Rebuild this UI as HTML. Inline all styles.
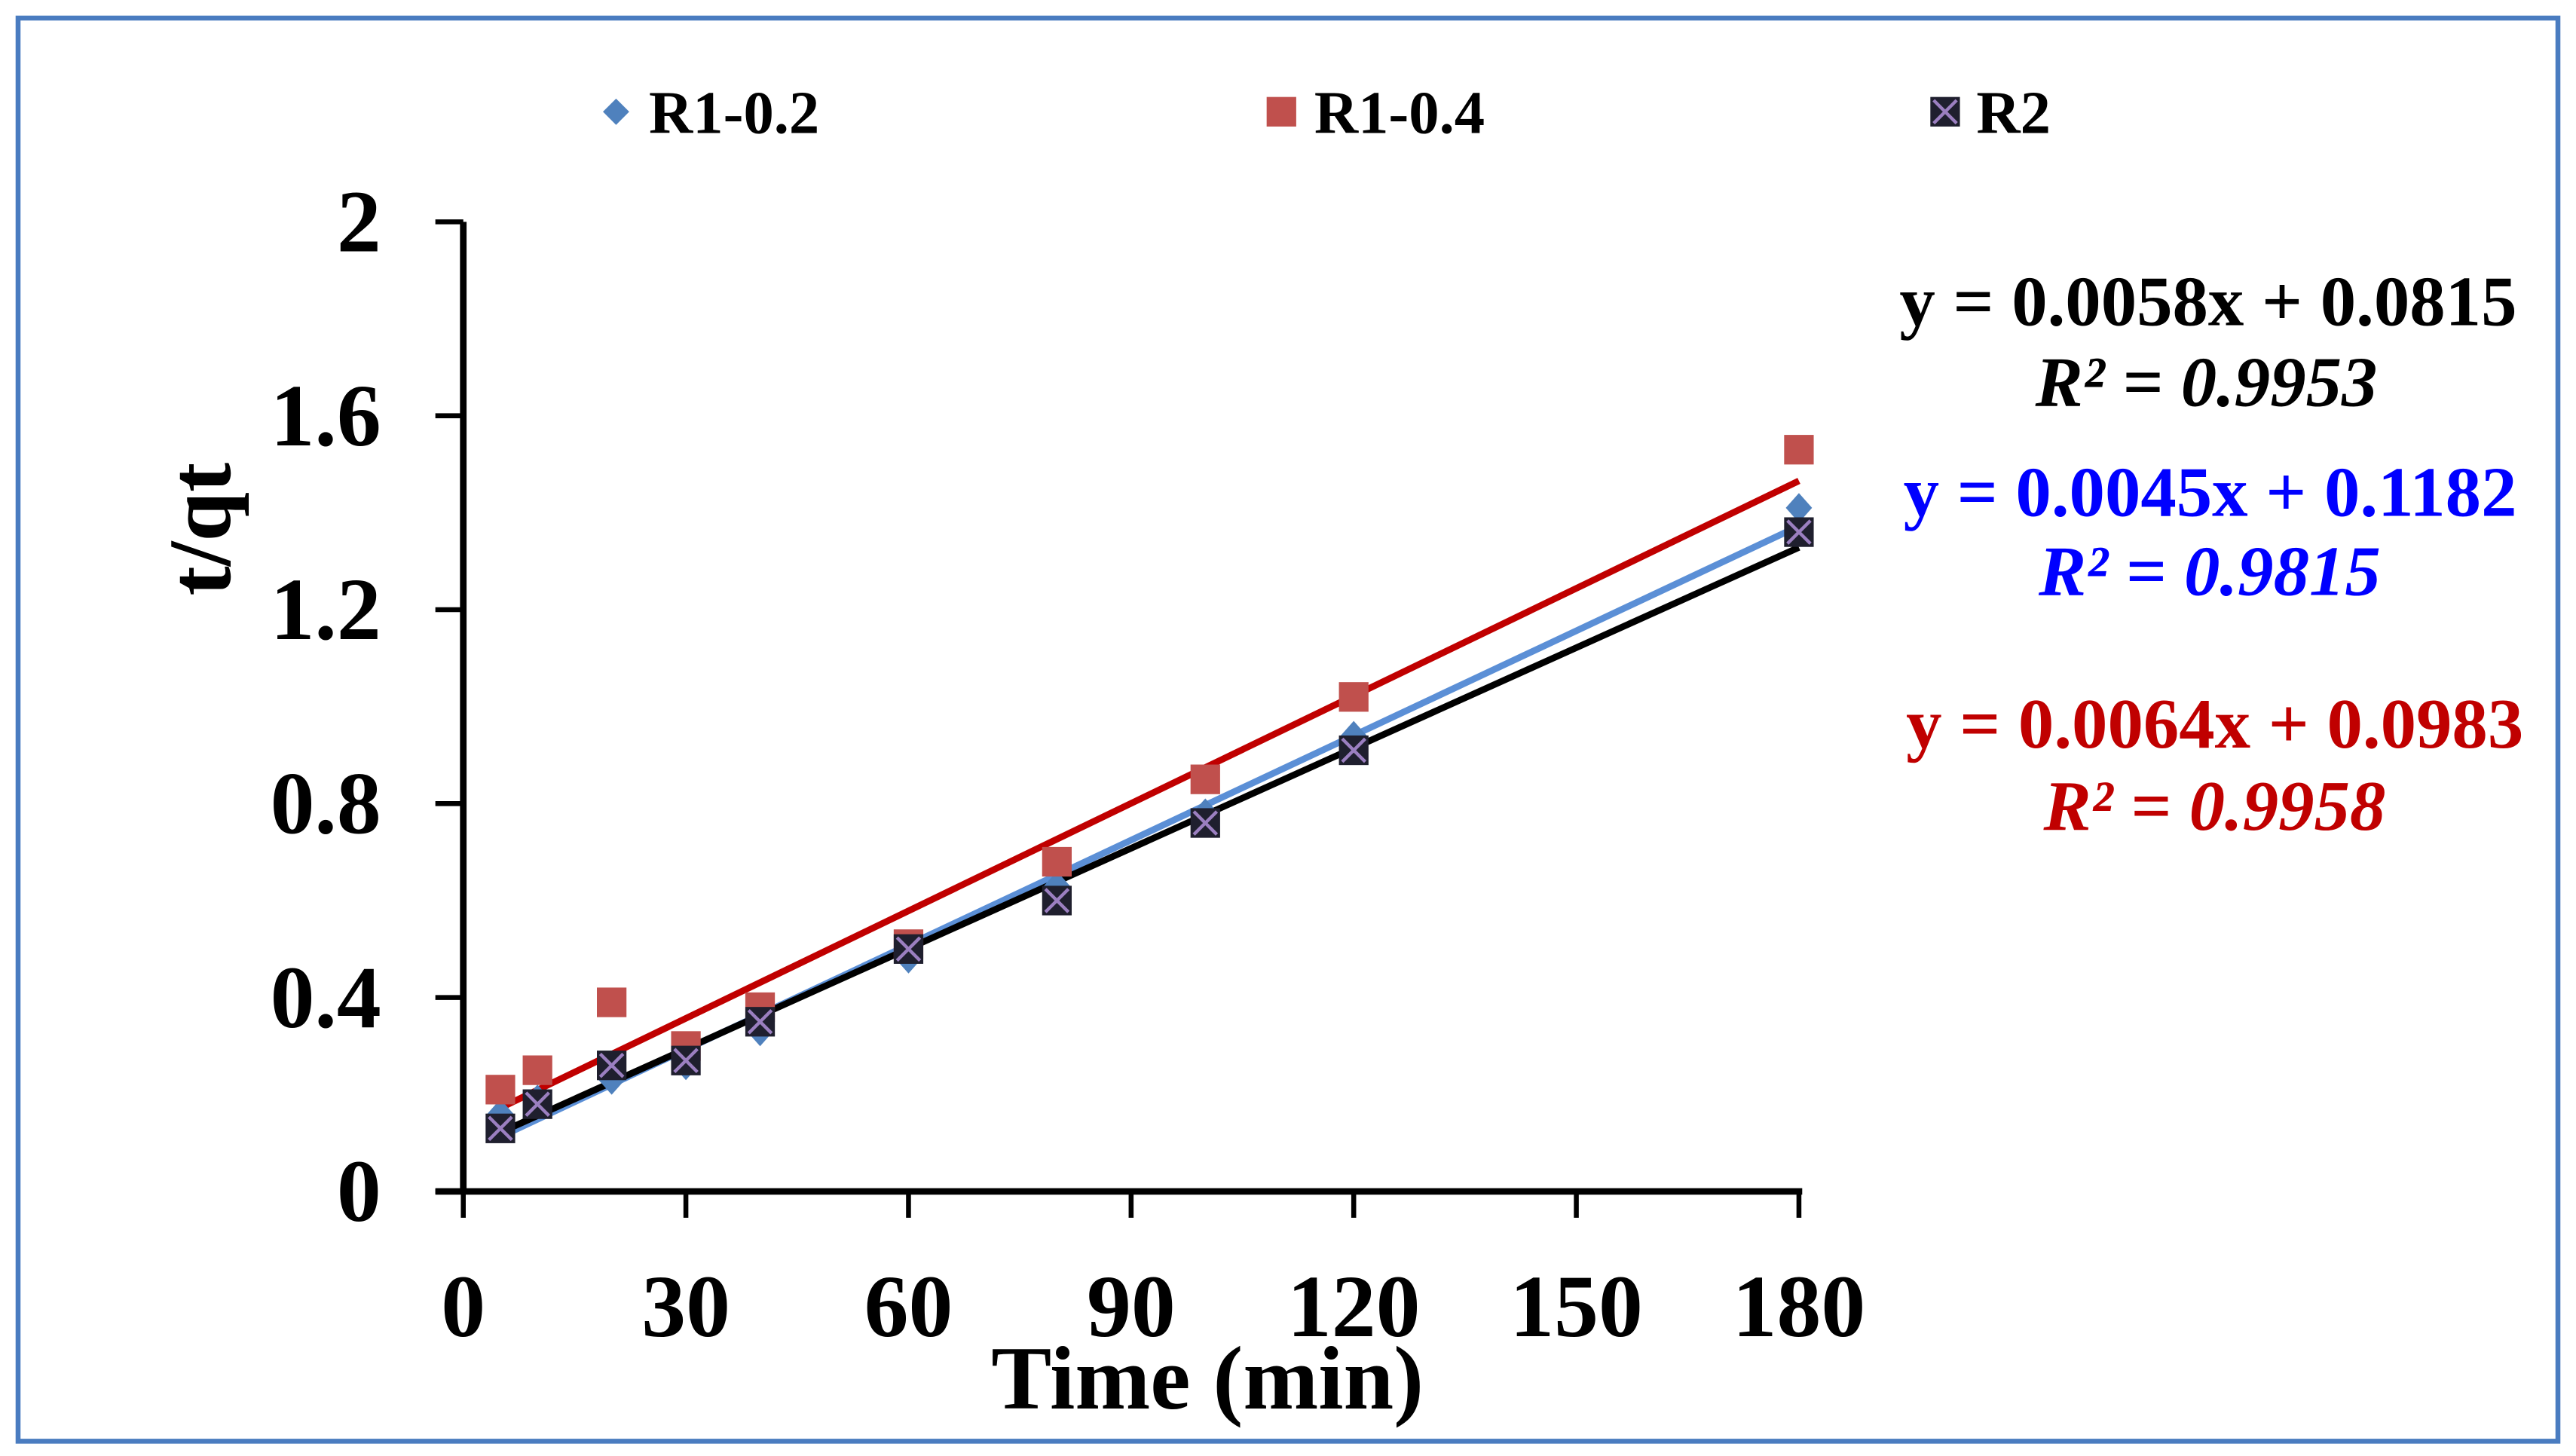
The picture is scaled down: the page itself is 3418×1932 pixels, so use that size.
<!DOCTYPE html>
<html><head><meta charset="utf-8"><style>
html,body{margin:0;padding:0;background:#fff;}
svg{display:block;}
text{font-family:"Liberation Serif",serif;font-weight:bold;}
</style></head><body>
<svg id="chart" width="3418" height="1932" viewBox="0 0 1568 886" preserveAspectRatio="none" xmlns="http://www.w3.org/2000/svg">
<rect x="11" y="11" width="1546" height="866" fill="#fff" stroke="#4a7cc0" stroke-width="3"/>
<g id="legend">
 <g>
  <polygon points="375,60 383,68 375,76 367,68" fill="#4f81bd"/>
  <text x="395" y="81" font-size="37">R1-0.2</text>
 </g>
 <g>
  <rect x="771" y="59" width="18" height="18" fill="#c0504d"/>
  <text x="800" y="81" font-size="37">R1-0.4</text>
 </g>
 <g>
  <rect x="1175" y="59" width="18" height="18" fill="#1f1f2e"/>
  <path d="M1177,61 L1191,75 M1191,61 L1177,75" stroke="#9b7fc0" stroke-width="2"/>
  <text x="1203" y="81" font-size="37">R2</text>
 </g>
</g>
<g id="axes"></g>
<g id="lines"></g>
<g id="marks"></g>
<text transform="translate(140,322) rotate(-90)" text-anchor="middle" font-size="54">t/qt</text>
<text x="735" y="857" text-anchor="middle" font-size="55">Time (min)</text>
<g fill="#000">
 <text x="1532" y="198" text-anchor="end" font-size="43.5">y = 0.0058x + 0.0815</text>
 <text x="1343" y="247" text-anchor="middle" font-size="43.5" font-style="italic">R² = 0.9953</text>
</g>
<g fill="#0000ff">
 <text x="1532" y="314" text-anchor="end" font-size="43.5">y = 0.0045x + 0.1182</text>
 <text x="1345" y="362" text-anchor="middle" font-size="43.5" font-style="italic">R² = 0.9815</text>
</g>
<g fill="#c00000">
 <text x="1536" y="455" text-anchor="end" font-size="43.5">y = 0.0064x + 0.0983</text>
 <text x="1348" y="505" text-anchor="middle" font-size="43.5" font-style="italic">R² = 0.9958</text>
</g>
</svg>
<script>
const times = [5,10,20,30,40,60,80,100,120,180];
const r102 = [0.16,0.19,0.23,0.26,0.33,0.48,0.63,0.78,0.94,1.41];
const r104 = [0.21,0.25,0.39,0.30,0.38,0.51,0.68,0.85,1.02,1.53];
const r2vals = [0.13,0.18,0.26,0.27,0.35,0.50,0.60,0.76,0.91,1.36];
const xTicks = [0,30,60,90,120,150,180];
const yTicks = [0,0.4,0.8,1.2,1.6,2];
const yTickLabels = ["0","0.4","0.8","1.2","1.6","2"];

const NS="http://www.w3.org/2000/svg";
function X(v){return 282+(v/180)*813;}
function Y(v){return 725-v*295;}
function mk(tag,attrs,parent){const e=document.createElementNS(NS,tag);for(const k in attrs)e.setAttribute(k,attrs[k]);parent.appendChild(e);return e;}
const axes=document.getElementById('axes');
let e=mk('line',{x1:282,y1:Y(2),x2:282,y2:Y(0),stroke:'#000','stroke-width':4},axes);


e=mk('line',{x1:265,y1:Y(0),x2:X(180)+2,y2:Y(0),stroke:'#000','stroke-width':4},axes);


yTicks.forEach((v,i)=>{
  mk('line',{x1:265,y1:Y(v),x2:282,y2:Y(v),stroke:'#000','stroke-width':3},axes);
  const t=mk('text',{x:232,y:Y(v)+18,'text-anchor':'end','font-size':54},axes);
  t.textContent=yTickLabels[i];
  
  
});
xTicks.forEach(v=>{
  mk('line',{x1:X(v),y1:Y(0),x2:X(v),y2:Y(0)+16,stroke:'#000','stroke-width':3},axes);
  const t=mk('text',{x:X(v),y:813,'text-anchor':'middle','font-size':54},axes);
  t.textContent=String(v);
  
  
});
function fit(ys){const n=times.length;let sx=0,sy=0,sxx=0,sxy=0;for(let i=0;i<n;i++){sx+=times[i];sy+=ys[i];sxx+=times[i]*times[i];sxy+=times[i]*ys[i];}const m=(n*sxy-sx*sy)/(n*sxx-sx*sx);return [m,(sy-m*sx)/n];}
const lines=document.getElementById('lines');
[[r104,'#c00000','trendline-r1-0-4'],[r102,'#5b8fd6','trendline-r1-0-2'],[r2vals,'#000','trendline-r2']].forEach(([ys,c,n])=>{
  const [m,b]=fit(ys);const x0=times[0],x1=times[times.length-1];
  const l=mk('line',{x1:X(x0),y1:Y(m*x0+b),x2:X(x1),y2:Y(m*x1+b),stroke:c,'stroke-width':4},lines);
  
  
});
const marks=document.getElementById('marks');
times.forEach((t,i)=>{
  const cx=X(t);
  let y=Y(r102[i]);
  const d=mk('polygon',{points:`${cx},${y-9} ${cx+8},${y} ${cx},${y+9} ${cx-8},${y}`,fill:'#4f81bd'},marks);
  
  
  y=Y(r104[i]);
  const s=mk('rect',{x:cx-9,y:y-9,width:18,height:18,fill:'#c0504d'},marks);
  
  
  y=Y(r2vals[i]);
  const g=mk('g',{},marks);
  
  
  mk('rect',{x:cx-9,y:y-9,width:18,height:18,fill:'#1f1f2e'},g);
  mk('path',{d:`M${cx-7},${y-7} L${cx+7},${y+7} M${cx+7},${y-7} L${cx-7},${y+7}`,stroke:'#9b7fc0','stroke-width':2},g);
});
</script>
</body></html>
